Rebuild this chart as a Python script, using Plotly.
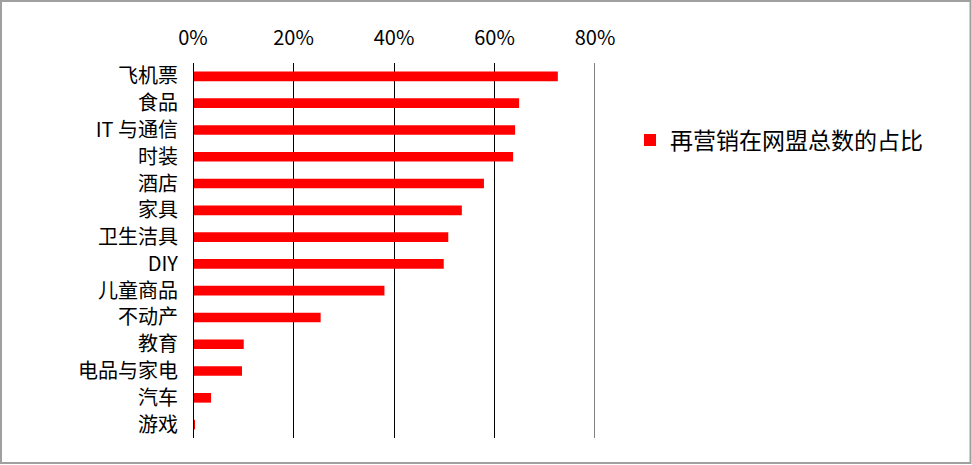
import plotly.graph_objects as go

# categories top to bottom
categories = ['飞机票', '食品', 'IT 与通信', '时装', '酒店', '家具', '卫生洁具', 'DIY',
              '儿童商品', '不动产', '教育', '电品与家电', '汽车', '游戏']
share = [0.726, 0.649, 0.641, 0.637, 0.579, 0.535, 0.508, 0.499,
         0.381, 0.254, 0.101, 0.0975, 0.036, 0.004]
series_name = '再营销在网盟总数的占比'
tick_vals = [0, 0.2, 0.4, 0.6, 0.8]
tick_text = ['0%', '20%', '40%', '60%', '80%']

W, H = 972, 465
L, R, T, B = 193, 377, 63, 27
pw, ph = W - L - R, H - T - B

fig = go.Figure()
fig.add_trace(go.Bar(
    y=categories, x=share, orientation='h', name=series_name,
    marker=dict(color='#ff0000', line=dict(width=0)),
    showlegend=True,
))

font = "Noto Sans CJK SC, Noto Sans, sans-serif"
fig.update_layout(
    width=W, height=H,
    margin=dict(l=L, r=R, t=T, b=B, pad=0),
    paper_bgcolor='white', plot_bgcolor='white',
    font=dict(family=font, size=20, color='black'),
    bargap=0.64,
    xaxis=dict(side='top', range=[0, 0.8], tickvals=tick_vals, ticktext=tick_text,
               showgrid=True, gridcolor='black', gridwidth=1,
               zeroline=False, showline=False, ticks='', ticklabelstandoff=13,
               tickfont=dict(size=20)),
    yaxis=dict(autorange='reversed', showgrid=False, zeroline=False,
               showline=False, ticks='', ticklabelstandoff=14,
               tickfont=dict(size=20)),
    showlegend=True,
    legend=dict(x=(630 - L) / pw, y=1 - (140 - T) / ph, xanchor='left', yanchor='middle',
                font=dict(size=23), bgcolor='rgba(0,0,0,0)',
                itemwidth=30),
    shapes=[
        # black value axis line at 0%
        dict(type='line', xref='x', yref='paper', x0=0, x1=0, y0=0, y1=1,
             line=dict(color='black', width=2)),
        # last gridline at the range end
        dict(type='line', xref='x', yref='paper', x0=tick_vals[-1], x1=tick_vals[-1], y0=0, y1=1,
             line=dict(color='black', width=1)),
        # outer frame
        dict(type='rect', xref='paper', yref='paper',
             x0=(1 - L) / pw, x1=(W - 1.5 - L) / pw,
             y0=-(B - 2) / ph, y1=1 + (T - 1) / ph,
             line=dict(color='#a0a0a0', width=2)),
    ],
)

fig.write_html("out.html", config={'displayModeBar': False},
               post_script="document.body.style.margin='0px';")
